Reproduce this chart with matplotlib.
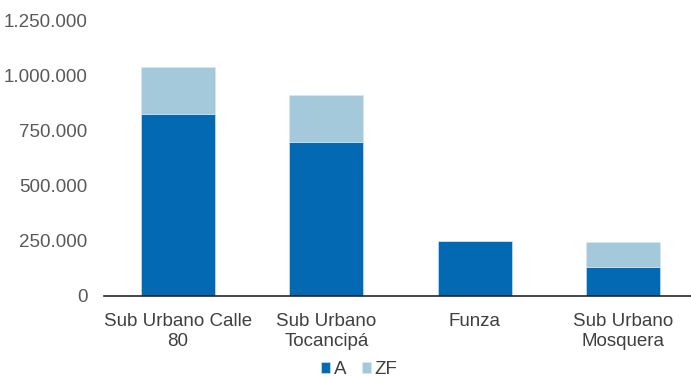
import matplotlib.pyplot as plt
import numpy as np

plt.rcParams['font.family'] = ['Liberation Sans', 'DejaVu Sans']

categories = ['Sub Urbano Calle\n80', 'Sub Urbano\nTocancipá', 'Funza', 'Sub Urbano\nMosquera']
serie_a = [826000, 700000, 248000, 132000]
serie_zf = [214000, 212000, 0, 112000]
yticks = [0, 250000, 500000, 750000, 1000000, 1250000]

color_a = '#0369b3'
color_zf = '#a3c9db'

fig = plt.figure(figsize=(6.91, 3.77), dpi=100)
ax = fig.add_axes([0.1505, 0.2149, 0.8495, 0.7294])

x = np.arange(len(categories))
ax.bar(x, serie_a, width=0.5, color=color_a, edgecolor='#dbe8f2', linewidth=0.4, label='A')
ax.bar(x, serie_zf, width=0.5, bottom=serie_a, color=color_zf, edgecolor='#dbe8f2',
       linewidth=0.4, label='ZF')

ax.set_xlim(-0.5, 3.46)
ax.set_ylim(0, 1250000)
ax.set_yticks(yticks)
ax.set_yticklabels([f'{v:,}'.replace(',', '.') for v in yticks])
ax.set_xticks(x)
ax.set_xticklabels(categories, linespacing=1.25)

for s in ['top', 'right', 'left']:
    ax.spines[s].set_visible(False)
ax.spines['bottom'].set_color('#262626')
ax.spines['bottom'].set_linewidth(1.2)

ax.tick_params(axis='y', length=0, labelsize=13.5, labelcolor='#595959', pad=12)
ax.tick_params(axis='x', length=0, labelsize=13.5, labelcolor='#404040', pad=12)

fig.legend(loc='center', bbox_to_anchor=(0.52, 0.02), ncol=2, frameon=False,
           fontsize=13.5, handlelength=0.5, handleheight=0.5, handletextpad=0.2,
           columnspacing=0.8, labelcolor='#404040')

fig.savefig('out.png', dpi=100)
